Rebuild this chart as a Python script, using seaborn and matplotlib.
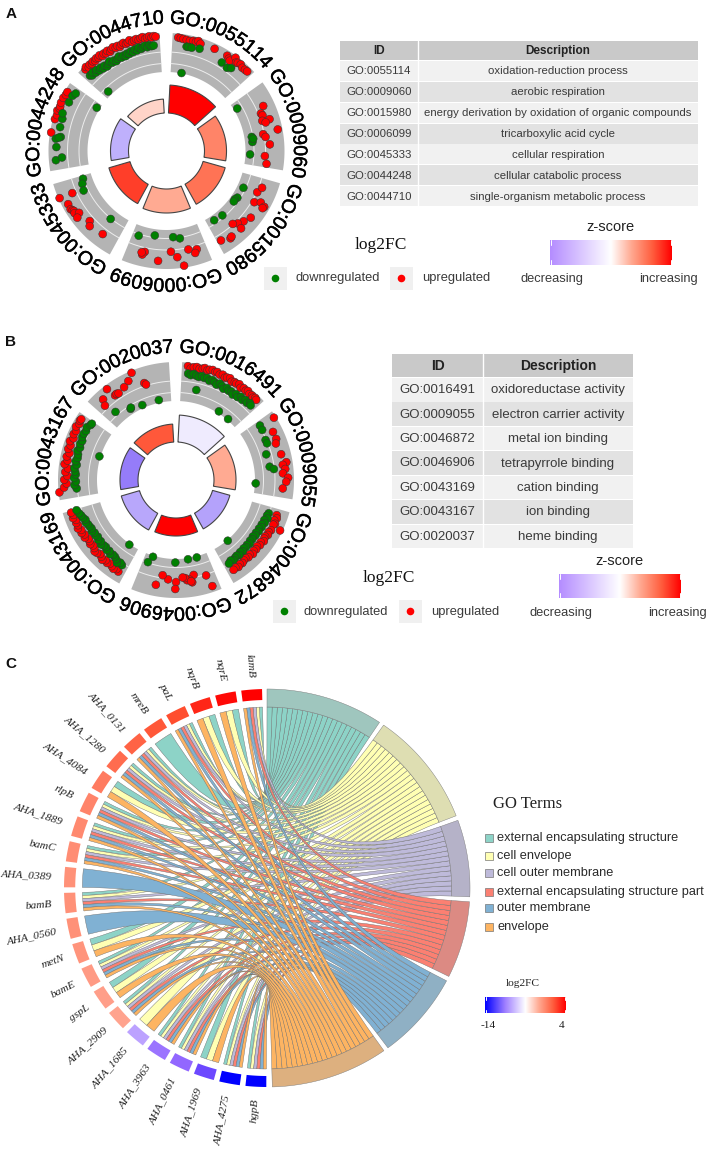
import numpy as np
import pandas as pd
import matplotlib
matplotlib.use("Agg")
import matplotlib.pyplot as plt
import matplotlib.patheffects as pe
from matplotlib.path import Path
from matplotlib.patches import PathPatch
from matplotlib.colors import LinearSegmentedColormap, TwoSlopeNorm
import seaborn as sns

# ---------- Panel A data ----------
A_ids = ["GO:0055114", "GO:0009060", "GO:0015980", "GO:0006099", "GO:0045333", "GO:0044248", "GO:0044710"]
A_desc = ["oxidation-reduction process", "aerobic respiration",
          "energy derivation by oxidation of organic compounds", "tricarboxylic acid cycle",
          "cellular respiration", "cellular catabolic process", "single-organism metabolic process"]
A_z = [3, 1.5, 1.75, 1.0, 2.35, -1.45, 0.5]
A_count = [28, 22, 23, 24, 22, 18, 14]
A_up_pos = [
 [2.9,4.2,5.6,7.3,9.0,10.7,12.1,13.2,14.6,22.2,29.5,31.0,32.0,33.5,35.2,36.0,37.6,39.3,41.0,42.4],
 [10.6,13.9,15.2,18.1,18.4,19.5,24.6,25.7,27.5,31.9,38.5,42.9],
 [8.6,5.2,14.4,12.8,13.9,14.9,22.5,26.5,29.6,31.9,30.2,37.9,36.9,42.8],
 [14,5.6,7,10.2,16.9,20.2,27.1,34.9,35.9,36.5],
 [37.5,37.2,32.9,30,29,28.3,27.2,26,24.5,18.9,16.9,8.8],
 [19,25.8,28,30.2,31.5,32.6,34.5,37.1,39,40.6],
 [3.6,4.6,5.5,6.8,7.9,9.0,10.1,11.2,12.3,13.4,14.5,15.6,16.7,17.8,18.9,20,21.1,22.2,23.3,24.4,25.5,26.6,27.7,28.8,29.9,31,32.1,33.2,34.3,35.4,36.5,37.6,38.7,39.8,40.9,42,43]]
A_up_fc = [
 [.90,.89,.88,.87,.86,.88,.87,.91,.86,.87,.87,.83,.80,.95,.86,.88,.90,.86,.87,.88],
 [.71,.58,.60,.55,.74,.62,.88,.49,.54,.63,.50,.56],
 [.53,.60,.58,.73,.86,.84,.73,.65,.58,.50,.73,.75,.73,.66],
 [.95,.61,.69,.56,.71,.56,.80,.62,.70,.65],
 [.97,.62,.84,.85,.82,.80,.82,.72,.83,.64,.73,.66],
 [.97,.95,.93,.96,.92,.93,.95,.95,.93,.93],
 [.92,.96,.90,.94,.91,.95,.92,.96,.93,.97,.91,.95,.92,.96,.90,.94,.97,.92,.95,.90,.94,.96,.91,.93,.97,.90,.93,.95,.91,.94,.96,.90,.93,.95,.91,.94,.92]]
A_down_pos = [
 [7.9,8.9,10.7,14.9,29,33,34.9,7.9],
 [4.6,26.2,29.6,37.9,27.5],
 [9.7,17.5,19.4,21,33.2,39.6],
 [40.9,30.6,18.3,14],
 [42.9,40,35.8,10.7],
 [5.1,6.3,11.9,17.4,16.2,16.9,22.5,27,29.8,36.4,40.3,42.2,41.7],
 [3,4,5.2,6.5,7.6,8.8,10,11.1,12.3,13.5,14.6,15.8,17,18.1,19.3,20.5,21.6,22.8,24,25.2,26.3,27.5,28.7,29.8,31,32.2,33.3,34.5,35.7,36.8,38,39.2,40.3,41.5,4.0]]
A_down_fc = [
 [.70,.70,.70,.73,.65,.61,.67,.01],
 [.09,.19,.19,.12,.22],
 [.16,.15,.12,.13,.16,.13],
 [.26,.16,.19,.24],
 [.23,.29,.33,.23],
 [.82,.66,.80,.71,.83,.76,.77,.77,.81,.77,.77,.73,.08],
 [.73,.69,.74,.68,.72,.66,.70,.64,.68,.62,.66,.70,.63,.66,.61,.65,.69,.63,.66,.62,.67,.64,.69,.65,.70,.66,.72,.67,.70,.73,.68,.72,.69,.70,.11]]

# ---------- Panel B data ----------
B_ids = ["GO:0016491", "GO:0009055", "GO:0046872", "GO:0046906", "GO:0043169", "GO:0043167", "GO:0020037"]
B_desc = ["oxidoreductase activity", "electron carrier activity", "metal ion binding",
          "tetrapyrrole binding", "cation binding", "ion binding", "heme binding"]
B_z = [-0.36, 1.0, -1.7, 3, -1.6, -2.4, 2.1]
B_count = [27, 22, 18, 18, 19, 18, 18]
B_up_pos = [
 [3,4.5,6,7.5,9,10.5,11.5,13,14,15.5,17,18,19.5,21,22.5,23.5,25,26.5,28,29,30.5,32,33.5,35,36,37.5,39,40,41,42],
 [3.1,9.2,13.3,21.8,26.4,27.5,29.8,32,34.4,36.5,40.1,15.5],
 [3.4,5,6.5,8,8.8,10,12,13.5,15,16.5,17.7,19,20.5,22,23.5,25,26.5,28,29.5,31,32.5,34,35.5,37,38.5,40,41.5],
 [3.8,5.2,12.2,13.7,15,16.4,17.4,22.7,23.1,27.3,30.7,33.6,14.2,18.8],
 [3.5,5,6.5,8,9.5,11,12.5,14,15.5,17,18.5,20,21.5,23,24.5,26,27.5,29,30.5,32,33.5,35,36.5,38,39.5,41,42.5,44],
 [3.8,6,8,10,12,14,16,18,20,22,24,26,28,30,32,34,36,38,40,41.5,42.5],
 [25.9,22.7,19.2,12.7,11.2,6.3,4.7,30.3,31,13.8,14.9]]
B_up_fc = [
 [.91,.86,.90,.92,.89,.91,.94,.90,.93,.95,.92,.94,.90,.93,.88,.91,.93,.87,.90,.89,.92,.86,.90,.88,.91,.87,.89,.86,.90,.88],
 [.95,.75,.75,.75,.84,.74,.79,.72,.85,.80,.72,.70],
 [.71,.74,.70,.75,.72,.94,.73,.70,.72,.68,.69,.72,.67,.70,.66,.69,.67,.71,.66,.69,.65,.67,.70,.68,.72,.69,.71],
 [.85,.54,.45,.63,.55,.56,.50,.59,.77,.53,.44,.71,.60,.48],
 [.75,.72,.76,.73,.70,.74,.71,.76,.72,.69,.73,.75,.70,.68,.72,.69,.68,.74,.70,.75,.72,.78,.74,.76,.73,.79,.75,.79],
 [.98,.85,.78,.84,.76,.82,.76,.86,.80,.84,.79,.85,.82,.87,.81,.85,.83,.88,.84,.87,.86],
 [.95,.79,.70,.65,.90,.76,.61,.59,.54,.66,.64]]
B_down_pos = [
 [3.5,5,6.5,8,9.5,11,12.5,14,15.5,17,18.5,20,21.5,23,24.5,26,27.5,29,30.5,32,33.5,35,36.5,38,39.5,41,42,9.7,29,37.5],
 [2.6,5.4,11.5,13.6,19.7,27.5,29.2,38],
 [3.9,5.5,7,8.5,10,11.5,13,14.5,16,17.5,19,20.5,22,23.5,25,26.5,28,29.5,31,32.5,34,35.5,37,38.5,40,41.8,33.7],
 [7.7,14.1,23.2,39.4,41.6],
 [3.7,5.2,6.8,8.3,9.8,11.4,12.9,14.5,16,17.5,19.1,20.6,22.2,23.7,25.3,26.8,28.4,29.9,31.5,33,34.6,36.1,37.7,39.2,40.8,42.3,44.4,7.1],
 [5,7,9,11,13,14.6,16.5,18.5,20.5,22.5,24.5,26.5,28.5,30.5,32.5,34.5,36.5,38.5,40.5,42.5,43.6,27],
 [6.8,15.9,24.2,36.3,16.5]]
B_down_fc = [
 [.72,.69,.73,.70,.68,.72,.69,.71,.66,.70,.67,.63,.69,.66,.61,.67,.63,.65,.60,.66,.62,.68,.64,.69,.66,.71,.68,.34,.05,.03],
 [.54,.53,.49,.49,.38,.40,.50,.02],
 [.50,.48,.52,.46,.50,.45,.48,.44,.47,.43,.46,.42,.45,.43,.47,.44,.46,.44,.48,.45,.49,.46,.48,.50,.47,.51,.02],
 [.03,.03,.09,.03,.20],
 [.56,.53,.58,.52,.49,.48,.52,.47,.50,.46,.47,.51,.46,.49,.45,.48,.46,.50,.47,.49,.50,.53,.51,.55,.57,.60,.64,.02],
 [.53,.58,.54,.59,.55,.57,.60,.55,.59,.56,.57,.61,.57,.60,.58,.62,.62,.60,.63,.58,.57,.03],
 [.31,.14,.08,.07,.16]]

# ---------- Panel C data ----------
terms = ["external encapsulating structure", "cell envelope", "cell outer membrane",
         "external encapsulating structure part", "outer membrane", "envelope"]
genes = ["hgpB", "AHA_4275", "AHA_1969", "AHA_0461", "AHA_3963", "AHA_1685", "AHA_2909", "gspL",
         "bamE", "metN", "AHA_0560", "bamB", "AHA_0389", "bamC", "AHA_1889", "rlpB", "AHA_4084",
         "AHA_1280", "AHA_0131", "mreB", "paL", "nqrB", "nqrE", "lamB"]
gene_fc = [-14, -14, -8.5, -6.5, -6, -4, 1.25, 1.4, 1.5, 1.7, 1.8, 1.8, 1.8, 1.9, 2.0, 2.1,
           2.3, 2.6, 2.8, 3.0, 3.2, 3.6, 3.9, 4.0]
gene_terms = ["012345", "012345", "015", "012345", "012345", "15", "012345", "015",
              "012345", "015", "4", "012345", "4", "012345", "012345", "012345", "015",
              "012345", "012345", "0", "012345", "015", "015", "012345"]

sns.set_theme(style="white")
plt.rcParams["font.family"] = ["Liberation Sans", "DejaVu Sans"]
SERIF = "Liberation Serif"

fig = plt.figure(figsize=(7.14, 11.5), dpi=100)
ax = fig.add_axes([0, 0, 1, 1])
ax.set_axis_off()

RED_SIDE = [(0.5, "#FFFFFF"), (0.67, "#FFA890"), (0.84, "#FF5E3E"), (1.0, "#FF0000")]
circle_cmap = LinearSegmentedColormap.from_list("z", [(0, "#7B5CF8")] + RED_SIDE)
bar_cmap = LinearSegmentedColormap.from_list("zb", [(0, "#B48CFF")] + RED_SIDE)
fc_stops = [(0, "#0000FF"), (0.25, "#8A5CFF"), (0.5, "#FFFFFF"), (0.58, "#FFB8A8"),
            (0.75, "#FF8A70"), (0.9, "#FF5030"), (1.0, "#FF0000")]
fc_cmap = LinearSegmentedColormap.from_list("fc", fc_stops)
fc_norm = TwoSlopeNorm(vmin=-14, vcenter=0, vmax=4)
fc_bar_cmap = LinearSegmentedColormap.from_list(
    "fcb", [(0, "#0000FF"), (0.25, "#A080FF"), (0.5, "#FFFFFF")] + RED_SIDE[1:])

CH = {"G": .78, "O": .78, ":": .28}


def polar(cx, cy, r, th, sx=1.0):
    t = np.radians(th)
    return cx + sx * r * np.sin(t), cy - r * np.cos(t)


def ring(cx, cy, r0, r1, a0, a1, **kw):
    th = np.linspace(a0, a1, 60)
    xo, yo = polar(cx, cy, r1, th)
    xi, yi = polar(cx, cy, r0, th[::-1])
    ax.fill(np.r_[xo, xi], np.r_[yo, yi], **kw)


def go_circle(cx, cy, ids, z, count, up_pos, up_fc, dn_pos, dn_fc):
    R0, R1 = 79, 118
    W, P, START = 45, 360 / 7, 3
    rows = []
    for k, gid in enumerate(ids):
        a0 = START + k * P
        ring(cx, cy, R0, R1, a0, a0 + W, color="#B4B4B4", lw=0, zorder=1)
        for rr in (87.5, 99):
            th = np.linspace(a0, a0 + W, 40)
            x, y = polar(cx, cy, rr, th)
            ax.plot(x, y, color="#EDEDED", lw=0.7, zorder=2)
        ring(cx, cy, 38, 38 + count[k], a0, a0 + W, facecolor=circle_cmap((z[k] + 3) / 6),
             edgecolor="#444444", lw=0.8, zorder=2)
        adv = 0
        for ch in gid:
            w = CH.get(ch, .556) * 19.6
            th = a0 - 1.5 + np.degrees((adv + w / 2) / 132)
            x, y = polar(cx, cy, 132, th)
            ax.text(x, y, ch, fontsize=14, rotation=-th, rotation_mode="anchor", ha="center",
                    va="center", color="black", zorder=5,
                    path_effects=[pe.withStroke(linewidth=0.35, foreground="black")])
            adv += w
        for p, f in zip(up_pos[k], up_fc[k]):
            rows.append(("up", *polar(cx, cy, R0 + f * (R1 - R0), a0 + p)))
        for p, f in zip(dn_pos[k], dn_fc[k]):
            rows.append(("down", *polar(cx, cy, R0 + f * (R1 - R0), a0 + p)))
    df = pd.DataFrame(rows, columns=["dir", "x", "y"])
    sns.scatterplot(data=df, x="x", y="y", hue="dir", hue_order=["up", "down"],
                    palette={"up": "#FF0000", "down": "#008000"}, s=32, edgecolor="#333333",
                    linewidth=0.35, legend=False, ax=ax, zorder=3)


def table(x0, x1, x2, y0, yh, y1, ids, desc, fs, head_fs):
    rh = (y1 - yh) / len(ids)
    ax.fill([x0, x2, x2, x0], [y0, y0, yh - .8, yh - .8], color="#C9C9C9", lw=0)
    ax.plot([x1, x1], [y0, y1], color="white", lw=1, zorder=2)
    ax.text((x0 + x1) / 2, (y0 + yh) / 2, "ID", fontsize=head_fs, fontweight="bold", ha="center",
            va="center", color="#222222", zorder=3)
    ax.text((x1 + x2) / 2, (y0 + yh) / 2, "Description", fontsize=head_fs, fontweight="bold",
            ha="center", va="center", color="#222222", zorder=3)
    for i, (a, b) in enumerate(zip(ids, desc)):
        t = yh + i * rh
        ax.fill([x0, x2, x2, x0], [t, t, t + rh - .8, t + rh - .8],
                color="#F1F1F1" if i % 2 == 0 else "#E2E2E2", lw=0)
        ax.text((x0 + x1) / 2, t + rh / 2, a, fontsize=fs, ha="center", va="center",
                color="#3A3A3A", zorder=3)
        ax.text((x1 + x2) / 2, t + rh / 2, b, fontsize=fs, ha="center", va="center",
                color="#3A3A3A", zorder=3)


def colorbar(x0, x1, y0, y1, cmap):
    ramp = np.linspace(0, 1, 256)[None, :]
    ax.imshow(ramp, extent=(x0, x1, y1, y0), cmap=cmap, aspect="auto", zorder=2)
    for xx in (x0 + (x1 - x0) * .01, x0 + (x1 - x0) * .99):
        ax.plot([xx, xx], [y0, y0 + (y1 - y0) * .2], color="white", lw=.7, zorder=3)
        ax.plot([xx, xx], [y1 - (y1 - y0) * .2, y1], color="white", lw=.7, zorder=3)


def key_row(x_down, x_up, y, x_dt, x_ut):
    key = pd.DataFrame({"x": [x_down + 11.5, x_up + 11.5], "y": [y, y], "k": ["d", "u"]})
    for xk in (x_down, x_up):
        ax.fill([xk, xk + 23, xk + 23, xk], [y - 11.5, y - 11.5, y + 11.5, y + 11.5],
                color="#F0F0F0", lw=0, zorder=1)
    sns.scatterplot(data=key, x="x", y="y", hue="k", palette={"d": "#008000", "u": "#FF0000"},
                    s=30, linewidth=0, legend=False, ax=ax, zorder=3)
    ax.text(x_dt, y, "downregulated", fontsize=9.3, va="center", color="#3A3A3A")
    ax.text(x_ut, y, "upregulated", fontsize=9.3, va="center", color="#3A3A3A")


# ---- Panels A, B ----
go_circle(166.5, 151, A_ids, A_z, A_count, A_up_pos, A_up_fc, A_down_pos, A_down_fc)
go_circle(176, 480, B_ids, B_z, B_count, B_up_pos, B_up_fc, B_down_pos, B_down_fc)
table(340, 418, 698, 41, 61, 207, A_ids, A_desc, 8.2, 8.5)
table(392, 483, 633, 354, 378, 549, B_ids, B_desc, 9.5, 10)

ax.text(381, 245, "log2FC", family=SERIF, fontsize=12.5, ha="center", va="center", color="#111111")
ax.text(610, 227, "z-score", fontsize=10.5, ha="center", va="center", color="#222222")
colorbar(550, 672, 240, 265, bar_cmap)
ax.text(552, 279, "decreasing", fontsize=9.3, ha="center", va="center", color="#3A3A3A")
ax.text(668, 279, "increasing", fontsize=9.3, ha="center", va="center", color="#3A3A3A")
key_row(264, 390, 278.5, 295, 422)

ax.text(389, 578, "log2FC", family=SERIF, fontsize=12.5, ha="center", va="center", color="#111111")
ax.text(619, 561, "z-score", fontsize=10.5, ha="center", va="center", color="#222222")
colorbar(559, 681, 574, 598, bar_cmap)
ax.text(561, 613, "decreasing", fontsize=9.3, ha="center", va="center", color="#3A3A3A")
ax.text(677, 613, "increasing", fontsize=9.3, ha="center", va="center", color="#3A3A3A")
key_row(273, 399, 611.5, 304, 431)

for letter, y in zip("ABC", (14, 342, 664)):
    ax.text(11, y, letter, fontsize=11, fontweight="bold", ha="center", va="center", color="#111111")

# ---- Panel C ----
CX, CY, SX = 267, 888, 203 / 199
RIB, OUT, GENE_IN = 181, 199, 188
set3 = sns.color_palette("Set3", 6)
band_cols = ["#9FC6BE", "#DEDEB2", "#B5B2C8", "#DC8A83", "#8FB0C4", "#DDB07F"]
GAP_T, SPAN = 1.4, 178.5
n_links = [sum(str(t) in s for s in gene_terms) for t in range(6)]
unit = (SPAN - 5 * GAP_T) / sum(n_links)


def cpt(r, th):
    return polar(CX, CY, r, th, SX)


term_slots = {}
a = 0.0
for t, name in enumerate(terms):
    w = n_links[t] * unit
    ring_th = np.linspace(a, a + w, 60)
    xo, yo = cpt(OUT, ring_th)
    xi, yi = cpt(RIB, ring_th[::-1])
    ax.fill(np.r_[xo, xi], np.r_[yo, yi], facecolor=band_cols[t], edgecolor="#777777", lw=.3, zorder=3)
    term_slots[t] = [a + i * unit for i in range(n_links[t])]
    a += w + GAP_T

gene_start, gene_step, gene_w = 180.2, 7.5, 5.9
links = {t: [] for t in range(6)}
for g, (gn, gt) in enumerate(zip(genes, gene_terms)):
    g0 = gene_start + g * gene_step
    th = np.linspace(g0, g0 + gene_w, 12)
    xo, yo = cpt(OUT, th)
    xi, yi = cpt(GENE_IN, th[::-1])
    ax.fill(np.r_[xo, xi], np.r_[yo, yi], color=fc_cmap(fc_norm(gene_fc[g])), lw=0, zorder=3)
    mid = g0 + gene_w / 2
    lx, ly = cpt(211, mid)
    ax.text(lx, ly, gn, family=SERIF, style="italic", fontsize=8.2, rotation=270 - mid,
            rotation_mode="anchor", ha="right", va="center", color="#222222", zorder=5)
    order = sorted(gt, reverse=True)  # clockwise: last term first
    sw = gene_w / len(order)
    for j, tc in enumerate(order):
        links[int(tc)].append((g0 + j * sw, g0 + (j + 1) * sw))

for t in range(6):
    for i, (g0, g1) in enumerate(links[t]):
        b0 = term_slots[t][n_links[t] - 1 - i]  # top gene sits at the start of the term
        b1 = b0 + unit
        arc_g = np.linspace(g0, g1, 5)
        arc_b = np.linspace(b0, b1, 5)
        verts, codes = [], []
        for j, th in enumerate(arc_g):
            verts.append(cpt(RIB, th))
            codes.append(Path.MOVETO if j == 0 else Path.LINETO)
        verts += [(CX, CY), cpt(RIB, arc_b[0])]
        codes += [Path.CURVE3, Path.CURVE3]
        for th in arc_b[1:]:
            verts.append(cpt(RIB, th))
            codes.append(Path.LINETO)
        verts += [(CX, CY), cpt(RIB, g0)]
        codes += [Path.CURVE3, Path.CURVE3]
        ax.add_patch(PathPatch(Path(verts, codes), facecolor=set3[t], edgecolor="#6E6E6E",
                               lw=.3, zorder=2 + t * .01))

ax.text(528, 804, "GO Terms", family=SERIF, fontsize=12, ha="center", va="center", color="#222222")
leg_y = [838, 856, 873, 892, 908, 927]
for t, (name, y) in enumerate(zip(terms, leg_y)):
    ax.fill([485, 493, 493, 485], [y - 4, y - 4, y + 4, y + 4], facecolor=set3[t],
            edgecolor="#777777", lw=.5, zorder=3)
    ax.text(497, y, name, fontsize=9.2, va="center", color="#2A2A2A")

ax.text(523, 983, "log2FC", family=SERIF, fontsize=8.2, ha="center", va="center", color="#222222")
colorbar(485, 566, 997, 1013, fc_bar_cmap)
ax.text(488, 1025, "-14", family=SERIF, fontsize=8.2, ha="center", va="center", color="#222222")
ax.text(562, 1025, "4", family=SERIF, fontsize=8.2, ha="center", va="center", color="#222222")

ax.set_xlim(0, 714)
ax.set_ylim(1150, 0)
ax.set_xlabel("")
ax.set_ylabel("")
fig.savefig("out.png", dpi=100, facecolor="white")
